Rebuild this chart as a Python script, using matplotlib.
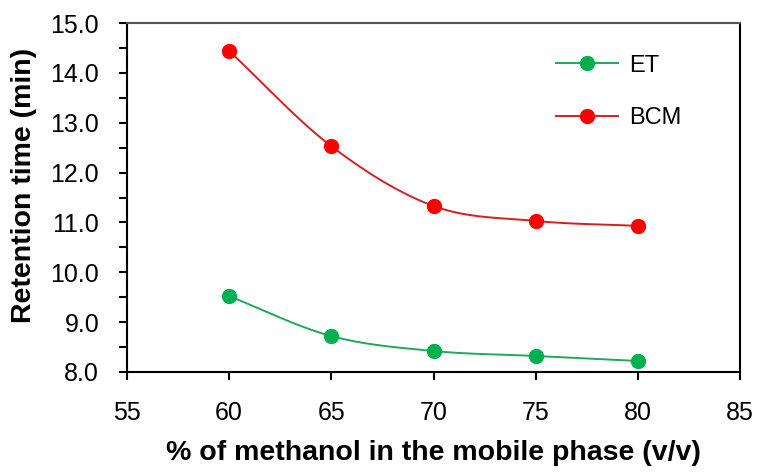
import numpy as np
import matplotlib.pyplot as plt
from matplotlib.ticker import MultipleLocator

plt.rcParams['font.family'] = ['Liberation Sans', 'DejaVu Sans']

# % methanol in mobile phase (v/v)
methanol = [60, 65, 70, 75, 80]
# retention times (min)
rt_et = [9.52, 8.72, 8.42, 8.32, 8.22]
rt_bcm = [14.44, 12.53, 11.33, 11.03, 10.93]


def smooth_curve(x, y, steps=30):
	# Catmull-Rom style smoothing, like a spreadsheet "smoothed line"
	x = np.asarray(x, float)
	y = np.asarray(y, float)
	px = np.concatenate([[2*x[0] - x[1]], x, [2*x[-1] - x[-2]]])
	py = np.concatenate([[2*y[0] - y[1]], y, [2*y[-1] - y[-2]]])
	xs, ys = [], []
	t = np.linspace(0, 1, steps)
	for i in range(1, len(px) - 2):
		for p, out in ((px, xs), (py, ys)):
			p0, p1, p2, p3 = p[i-1], p[i], p[i+1], p[i+2]
			seg = 0.5*((2*p1) + (-p0 + p2)*t + (2*p0 - 5*p1 + 4*p2 - p3)*t**2 + (-p0 + 3*p1 - 3*p2 + p3)*t**3)
			out.extend(seg)
	return np.array(xs), np.array(ys)


fig = plt.figure(figsize=(7.6, 4.72), dpi=100)
ax = fig.add_axes([0.167, 0.212, 0.807, 0.739])

series = [("ET", rt_et, "#1faa55", "#00b050"), ("BCM", rt_bcm, "#d42020", "#ff0000")]
for name, vals, lc, mc in series:
	sx, sy = smooth_curve(methanol, vals)
	ax.plot(sx, sy, color=lc, lw=1.4, zorder=2)
	ax.plot(methanol, vals, 'o', color=mc, ms=10, zorder=3)
	# legend proxy
	ax.plot([], [], color=lc, lw=1.4, marker='o', mfc=mc, mec=mc, ms=10, label=name)

ax.set_xlim(55, 85)
ax.set_ylim(8, 15)
ax.xaxis.set_major_locator(MultipleLocator(5))
ax.yaxis.set_major_locator(MultipleLocator(1))
ax.yaxis.set_minor_locator(MultipleLocator(0.5))
ax.yaxis.set_major_formatter(plt.FormatStrFormatter('%.1f'))

ax.tick_params(axis='both', which='both', direction='out', width=1.5, labelsize=18, colors='black')
ax.tick_params(axis='x', length=6, pad=15)
ax.tick_params(axis='y', which='both', length=6, pad=14)
ax.tick_params(top=False, right=False)
for s in ax.spines.values():
	s.set_linewidth(1.5)
	s.set_color('black')
ax.spines['top'].set_color('#555555')

ax.set_xlabel("% of methanol in the mobile phase (v/v)", fontsize=20.5, fontweight='bold', labelpad=11)
ax.set_ylabel("Retention time (min)", fontsize=20.5, fontweight='bold')
ax.yaxis.set_label_coords(-0.147, 0.536)

ax.legend(loc='upper left', bbox_to_anchor=(0.70, 0.91), frameon=False, fontsize=17,
          handlelength=2.6, labelspacing=1.3, handletextpad=0.5, borderpad=0, borderaxespad=0)

fig.savefig("out.png", dpi=100)
